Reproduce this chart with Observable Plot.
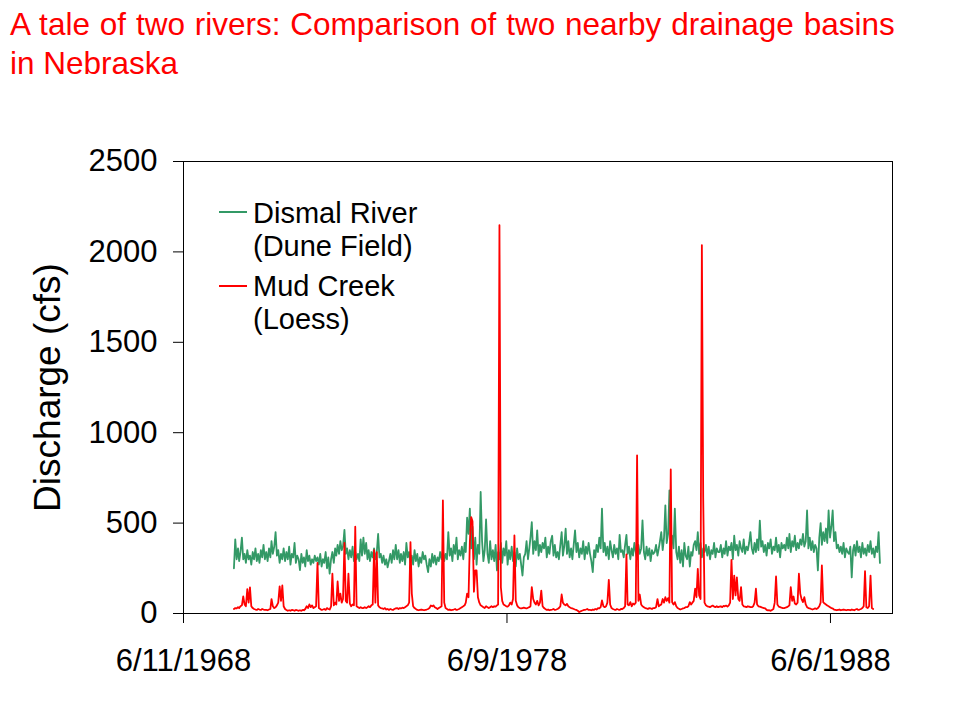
<!DOCTYPE html>
<html>
<head>
<meta charset="utf-8">
<script src="https://cdn.jsdelivr.net/npm/d3@7"></script>
<script src="https://cdn.jsdelivr.net/npm/@observablehq/plot@0.6"></script>
<style>
  body { margin: 0; background: #fff; }
  #wrap { position: relative; width: 960px; height: 720px; background: #fff; overflow: hidden;
          font-family: Arial, "Liberation Sans", sans-serif; }
  #title { position: absolute; left: 10px; top: 4.6px; font-size: 31.5px; line-height: 39px; color: #FF0000; white-space: nowrap; }
  #title .l1 { word-spacing: 1.1px; }
  #chart { position: absolute; left: 0; top: 100px; }
  .leg { position: absolute; font-size: 29px; line-height: 33.4px; color: #000; white-space: nowrap; }
  .sw { position: absolute; width: 28px; height: 2px; }
  g[aria-label="y-axis label"] text { font-size: 37px; }
</style>
</head>
<body>
<div id="wrap">
  <div id="title"></div>
  <div id="chart"></div>
</div>
<script>
const titleLines = ["A tale of two rivers: Comparison of two nearby drainage basins", "in Nebraska"];
const yLabel = "Discharge (cfs)";
const xTicks = ["1968-06-11", "1978-06-09", "1988-06-06"];
const xDomain = ["1968-06-11", "1990-05-07"];
const yTicks = [0, 500, 1000, 1500, 2000, 2500];
const years = d3.range(1970, 1990);
const seriesNames = ["Dismal River (Dune Field)", "Mud Creek (Loess)"];
const legendLines = [["Dismal River", "(Dune Field)"], ["Mud Creek", "(Loess)"]];
const seriesColors = ["#339966", "#FF0000"];

// Dismal River daily discharge (cfs), sampled on the 1st and 16th of each month, one row per year
const dismal = [
  [250,410,300,360,290,340,420,300,330,280,350,300,320,270,340,300,360,290,330,280,350,310,380,300],
  [340,290,360,310,400,330,370,450,320,350,280,330,300,360,290,340,300,370,270,330,310,390,280,320],
  [300,240,330,280,310,260,350,290,320,270,300,280,320,290,310,270,330,260,300,280,340,250,310,220],
  [300,340,280,360,320,380,330,400,350,370,463,330,360,300,350,310,370,290,340,300,330,290,410,320],
  [420,330,390,300,350,290,340,310,360,300,340,440,310,330,280,320,270,300,255,290,330,280,350,300],
  [380,300,350,280,330,290,340,270,390,310,340,280,320,270,350,290,330,260,310,280,340,300,320,270],
  [229,300,260,330,280,320,270,310,290,340,300,350,290,330,300,450,320,360,290,380,330,420,300,350],
  [320,370,300,390,340,530,440,580,360,480,300,420,270,380,330,672,400,290,350,520,330,280,400,300],
  [350,290,380,238,340,300,390,280,360,320,400,270,350,300,370,290,340,260,360,300,330,270,210,310],
  [330,400,300,360,420,505,330,400,350,460,320,380,340,390,360,420,310,370,330,400,430,320,380,310],
  [340,300,380,450,320,370,469,330,400,310,360,300,380,460,340,390,310,360,330,400,300,370,330,390],
  [330,290,229,350,310,380,340,420,360,580,340,390,320,370,300,400,350,310,380,330,360,300,435,340],
  [350,310,380,435,330,370,300,360,320,390,340,300,380,330,360,515,340,300,370,320,360,290,350,330],
  [340,380,320,360,400,450,350,420,598,390,440,681,380,430,360,580,340,300,370,280,350,260,390,320],
  [300,370,260,340,320,380,400,350,450,330,390,310,360,340,380,320,370,300,350,330,390,310,360,340],
  [340,380,310,360,330,400,320,370,350,390,300,430,350,380,320,400,360,340,410,330,370,350,390,450],
  [360,330,390,340,410,350,514,370,400,340,380,320,390,360,410,330,370,350,420,340,380,310,390,360],
  [380,350,420,360,440,340,400,370,430,350,390,360,410,380,440,370,400,570,360,420,350,400,340,380],
  [360,238,420,500,380,450,400,470,390,570,420,480,570,400,450,360,380,340,370,330,390,310,360,340],
  [330,370,200,350,380,320,400,340,370,310,390,330,360,320,380,340,400,330,360,310,370,340,450,280]
];

// Mud Creek daily discharge (cfs), same sampling; record ends Sept 1989
const mud = [
  [25,30,28,35,30,40,45,95,50,40,135,60,145,40,30,25,22,20,25,22,20,25,22,20],
  [20,18,22,25,80,40,30,35,45,60,150,70,155,40,25,20,15,18,15,20,18,15,20,18],
  [15,18,15,20,18,25,40,30,50,35,45,30,35,40,280,30,25,20,22,25,20,30,25,22],
  [40,220,45,60,50,177,70,110,60,80,390,70,60,220,55,40,50,45,480,40,35,30,35,30],
  [30,35,30,35,40,35,45,50,350,60,340,45,35,30,28,25,30,22,25,20,25,22,20,25],
  [28,30,25,30,28,32,30,35,40,45,60,395,110,40,30,25,20,18,20,22,20,18,20,22],
  [25,30,44,40,45,35,30,25,30,35,40,625,60,30,25,20,22,18,20,22,25,20,22,25],
  [30,35,40,45,60,110,90,395,533,510,120,238,238,90,60,45,40,35,30,40,35,30,35,40],
  [35,40,38,45,50,2148,145,70,50,45,40,38,45,60,50,80,432,70,45,35,30,28,30,32],
  [30,28,32,35,40,146,80,60,50,70,45,60,127,40,30,25,20,22,18,20,22,25,20,22],
  [25,30,40,105,60,50,45,53,40,35,30,28,25,22,20,15,8,12,15,18,20,22,25,20],
  [20,18,22,20,25,22,30,28,35,72,40,35,40,60,186,50,30,25,22,20,25,22,20,25],
  [25,30,40,327,50,45,63,40,55,50,60,875,70,105,50,40,35,30,28,25,30,28,25,30],
  [30,35,80,40,45,50,80,60,90,70,85,60,797,63,50,63,40,30,26,22,25,28,30,35],
  [35,40,63,50,60,70,137,90,247,100,80,2038,640,60,45,40,38,35,40,44,38,35,40,35],
  [38,40,35,42,40,44,38,45,60,297,80,210,100,200,80,70,146,50,40,38,35,40,38,35],
  [35,40,60,137,50,40,38,35,32,30,28,20,17,18,15,20,25,60,205,50,38,35,32,30],
  [30,32,35,40,45,146,70,94,55,50,60,220,110,80,63,90,50,35,30,28,25,22,25,28],
  [25,30,40,60,266,63,55,50,44,40,35,30,28,22,20,18,20,22,18,20,22,20,18,20],
  [20,18,22,20,18,22,25,20,22,25,30,40,234,35,30,40,210,30,25,null,null,null,null,null]
];

function toRows(table, name) {
  const rows = [];
  table.forEach((vals, i) => {
    vals.forEach((v, m) => {
      rows.push({series: name, date: new Date(Date.UTC(years[i], Math.floor(m / 2), m % 2 ? 16 : 1)), value: v});
    });
  });
  return rows;
}
const dismalRows = toRows(dismal, seriesNames[0]);
const mudRows = toRows(mud, seriesNames[1]);

const fmt = d => `${d.getUTCMonth() + 1}/${d.getUTCDate()}/${d.getUTCFullYear()}`;

document.getElementById("title").innerHTML =
  `<span class="l1">${titleLines[0]}</span><br><span>${titleLines[1]}</span>`;

const chart = Plot.plot({
  width: 960,
  height: 620,
  marginTop: 61,
  marginBottom: 107,
  marginLeft: 183,
  marginRight: 68,
  style: {fontFamily: 'Arial, "Liberation Sans", sans-serif', fontSize: "31px", color: "#000", background: "#fff", overflow: "visible"},
  x: {type: "utc", domain: xDomain.map(s => new Date(s))},
  y: {domain: [0, 2500]},
  marks: [
    Plot.axisX({ticks: xTicks.map(s => new Date(s)), tickFormat: fmt, tickSize: 10, tickPadding: 25, label: null, fontSize: 31}),
    Plot.axisY({ticks: yTicks, tickFormat: d => String(d), tickSize: 10, tickPadding: 16, label: yLabel, labelAnchor: "center", labelOffset: 150, labelArrow: "none", fontSize: 31}),
    Plot.lineY(dismalRows, {x: "date", y: "value", stroke: seriesColors[0], strokeWidth: 1.8}),
    Plot.lineY(mudRows, {x: "date", y: "value", stroke: seriesColors[1], strokeWidth: 1.8}),
    Plot.frame({stroke: "#000", strokeWidth: 1})
  ]
});
document.getElementById("chart").appendChild(chart);

// legend overlay (inside plot area, top-left)
const wrap = document.getElementById("wrap");
const legTops = [196.6, 270];
legendLines.forEach((lines, i) => {
  const sw = document.createElement("div");
  sw.className = "sw";
  sw.style.left = "219px";
  sw.style.top = (legTops[i] + 15.7 - 1) + "px";
  sw.style.background = seriesColors[i];
  wrap.appendChild(sw);
  const t = document.createElement("div");
  t.className = "leg";
  t.style.left = "253px";
  t.style.top = legTops[i] + "px";
  t.innerHTML = lines.join("<br>");
  wrap.appendChild(t);
});
</script>
</body>
</html>
